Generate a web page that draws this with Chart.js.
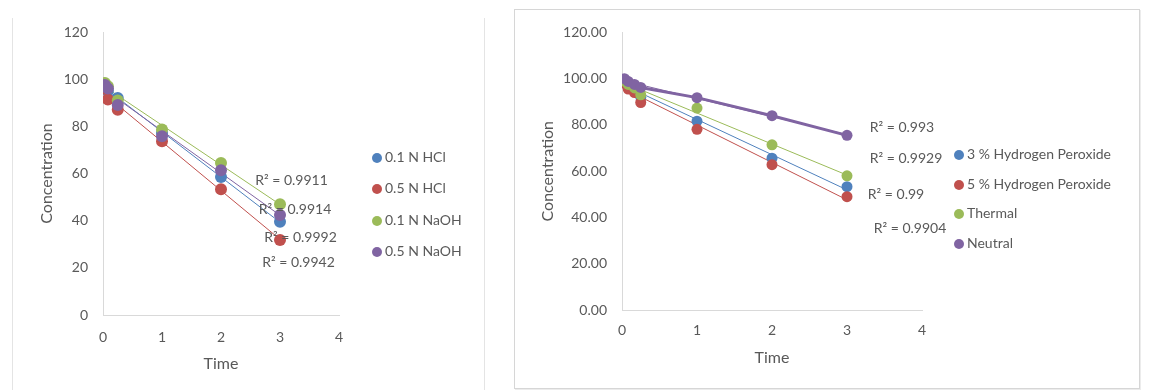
<!DOCTYPE html>
<html lang="en">
<head>
<meta charset="UTF-8">
<title>Concentration vs Time</title>
<script src="https://cdn.jsdelivr.net/npm/chart.js"></script>
<style>
  body { margin: 0; background: #fff; width: 1153px; height: 390px; position: relative; overflow: hidden; font-family: Lato, sans-serif; }
  .vline { position: absolute; width: 1px; background: #e4e4e4; }
  #box2 { position: absolute; left: 514px; top: 9px; width: 624px; height: 378px; border: 1px solid #d6d6d6; box-shadow: 1px 1px 0 #ececec; }
  canvas { position: absolute; }
  .item { position: absolute; white-space: nowrap; font-size: 14px; line-height: 16px; color: #595959; }
  .item span { display: inline-block; width: 10px; height: 10px; border-radius: 50%; margin-right: 3px; vertical-align: -1px; }
</style>
</head>
<body>
<div class="vline" style="left:12px; top:18px; height:372px;"></div>
<div class="vline" style="left:484px; top:18px; height:372px;"></div>
<div id="box2"></div>
<canvas id="left" width="484" height="390" style="left:0; top:0;"></canvas>
<canvas id="right" width="625" height="379" style="left:514px; top:9px;"></canvas>

<script>
// colours of the four series (Office palette)
const colors = ['#4f81bd', '#c0504d', '#9bbb59', '#8064a2'];

// left chart: acid / base degradation
const timeLeft = [0.033, 0.083, 0.25, 1, 2, 3];
const namesLeft = ['0.1 N HCl', '0.5 N HCl', '0.1 N NaOH', '0.5 N NaOH'];
const hcl01 = [97, 95, 92, 77.2, 58.5, 39.5];
const hcl05 = [96, 91.4, 87, 73.7, 53.3, 31.8];
const naoh01 = [98.4, 97, 91, 78.7, 64.5, 47];
const naoh05 = [97.5, 96, 89, 75.8, 61.4, 42.4];
const r2Left = ['R² = 0.9911', 'R² = 0.9914', 'R² = 0.9992', 'R² = 0.9942'];
const yTicksLeft = [0, 20, 40, 60, 80, 100, 120];

// right chart: oxidative / thermal / neutral
const timeRight = [0.033, 0.083, 0.167, 0.25, 1, 2, 3];
const namesRight = ['3 % Hydrogen Peroxide', '5 % Hydrogen Peroxide', 'Thermal', 'Neutral'];
const h2o2_3 = [99, 97, 95, 92, 81.6, 65.6, 53.3];
const h2o2_5 = [98, 95.5, 94, 89.7, 78.1, 62.8, 49];
const thermal = [99, 97.5, 96, 93, 87.3, 71.4, 58];
const neutral = [100, 98.8, 97.5, 96.2, 91.8, 84, 75.5];
const r2Right = ['R² = 0.993', 'R² = 0.9929', 'R² = 0.99', 'R² = 0.9904'];
const yTicksRight = [0, 20, 40, 60, 80, 100, 120];

const xTicks = [0, 1, 2, 3, 4];

Chart.defaults.font.family = 'Lato, sans-serif';
Chart.defaults.color = '#595959';

// least squares line between first and last time
function trend(xs, ys) {
  const n = xs.length;
  const mx = xs.reduce((a, b) => a + b, 0) / n;
  const my = ys.reduce((a, b) => a + b, 0) / n;
  let sxy = 0, sxx = 0;
  for (let i = 0; i < n; i++) {
    sxy += (xs[i] - mx) * (ys[i] - my);
    sxx += (xs[i] - mx) * (xs[i] - mx);
  }
  const b = sxy / sxx, a = my - b * mx;
  return [{x: xs[0], y: a + b * xs[0]}, {x: xs[n - 1], y: a + b * xs[n - 1]}];
}

const pts = (xs, ys) => xs.map((x, i) => ({x: x, y: ys[i]}));

// R² labels, drawn in data coordinates
const r2Plugin = {
  id: 'r2Labels',
  afterDatasetsDraw(chart, args, opts) {
    const {ctx, scales: {x, y}} = chart;
    ctx.save();
    ctx.font = '14px Lato, sans-serif';
    ctx.fillStyle = '#595959';
    ctx.textAlign = 'center';
    ctx.textBaseline = 'middle';
    opts.items.forEach(it => ctx.fillText(it.text, x.getPixelForValue(it.x), y.getPixelForValue(it.y)));
    ctx.restore();
  }
};

function makeChart(id, s) {
  const datasets = [];
  s.series.forEach((ys, i) => {
    datasets.push({
      data: pts(s.time, ys),
      backgroundColor: colors[i],
      borderColor: colors[i],
      pointRadius: s.radius,
      pointBorderWidth: 0,
      showLine: !!(s.joined && s.joined[i]),
      borderWidth: 3,
      order: 10 - i
    });
    datasets.push({
      data: trend(s.time, ys),
      borderColor: colors[i],
      borderWidth: 1,
      pointRadius: 0,
      showLine: true,
      order: 20 - i
    });
  });

  return new Chart(document.getElementById(id), {
    type: 'scatter',
    data: {datasets: datasets},
    options: {
      responsive: false,
      animation: false,
      layout: {padding: s.pad},
      plugins: {
        legend: {display: false},
        tooltip: {enabled: false},
        r2Labels: {items: s.labels}
      },
      scales: {
        x: {
          type: 'linear', min: 0, max: 4,
          afterBuildTicks: a => { a.ticks = xTicks.map(v => ({value: v})); },
          afterFit: a => { a.height = s.xHeight; },
          grid: {display: false, drawTicks: false},
          border: {color: '#d9d9d9'},
          ticks: {font: {size: 14}, padding: s.xTickPad},
          title: {display: true, text: 'Time', font: {size: 16}, padding: {top: 0, bottom: s.xTitlePad}}
        },
        y: {
          type: 'linear', min: 0, max: 120,
          afterBuildTicks: a => { a.ticks = s.yTicks.map(v => ({value: v})); },
          afterFit: a => { a.width = s.yWidth; },
          grid: {display: false, drawTicks: false},
          border: {color: '#d9d9d9'},
          ticks: {font: {size: 14}, padding: 15, callback: v => v.toFixed(s.decimals)},
          title: {display: true, text: 'Concentration', font: {size: 16}, padding: {top: s.yTitlePad, bottom: 0}}
        }
      }
    },
    plugins: [r2Plugin]
  });
}

makeChart('left', {
  time: timeLeft,
  series: [hcl01, hcl05, naoh01, naoh05],
  yTicks: yTicksLeft,
  decimals: 0,
  radius: 6,
  pad: {left: 0, top: 32, right: 145, bottom: 0},
  xHeight: 75, yWidth: 103,
  xTickPad: 14, xTitlePad: 17, yTitlePad: 37,
  labels: [
    {text: r2Left[0], x: 3.195, y: 56.9},
    {text: r2Left[1], x: 3.254, y: 44.9},
    {text: r2Left[2], x: 3.347, y: 33.0},
    {text: r2Left[3], x: 3.314, y: 22.2}
  ]
});

makeChart('right', {
  time: timeRight,
  series: [h2o2_3, h2o2_5, thermal, neutral],
  joined: [false, false, false, true],
  yTicks: yTicksRight,
  decimals: 2,
  radius: 5.5,
  pad: {left: 0, top: 16, right: 217, bottom: 0},
  xHeight: 78, yWidth: 108,
  xTickPad: 12, xTitlePad: 21, yTitlePad: 24,
  labels: [
    {text: r2Right[0], x: 3.733, y: 78.8},
    {text: r2Right[1], x: 3.787, y: 65.3},
    {text: r2Right[2], x: 3.653, y: 49.8},
    {text: r2Right[3], x: 3.84, y: 35.3}
  ]
});

// legends as page text
function legend(names, cx, cy, step) {
  names.forEach((n, i) => {
    const d = document.createElement('div');
    d.className = 'item';
    d.style.left = (cx - 5) + 'px';
    d.style.top = (cy + i * step - 8) + 'px';
    d.innerHTML = '<span style="background:' + colors[i] + '"></span>' + n;
    document.body.appendChild(d);
  });
}
legend(namesLeft, 377, 157.3, 31.1);
legend(namesRight, 959, 154, 29.7);
</script>
</body>
</html>
